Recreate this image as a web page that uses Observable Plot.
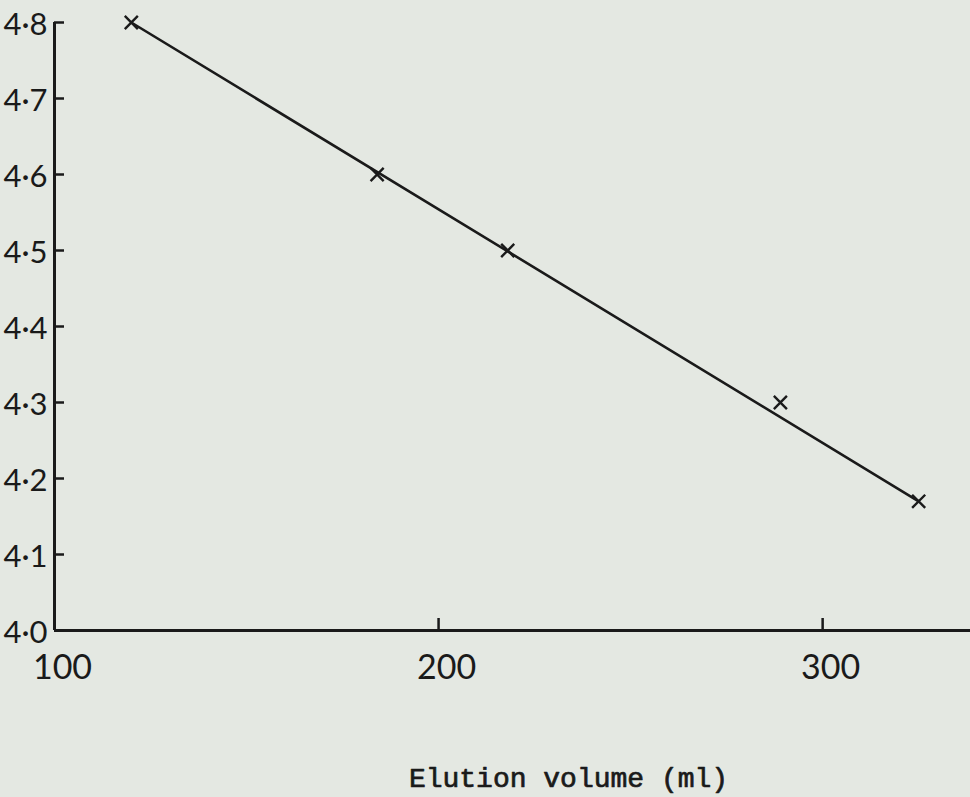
<!DOCTYPE html>
<html>
<head>
<meta charset="utf-8">
<script src="https://cdn.jsdelivr.net/npm/d3@7"></script>
<script src="https://cdn.jsdelivr.net/npm/@observablehq/plot@0.6"></script>
<style>
  html, body { margin: 0; padding: 0; background: #e4e8e2; }
  #chart { width: 970px; height: 797px; overflow: hidden; }
</style>
</head>
<body>
<div id="chart"></div>
<script>
// Data
const elutionVolume = [120, 184, 218, 289, 325];
const logMW = [4.80, 4.60, 4.50, 4.30, 4.17];
const fitVolume = [120, 325];
const fitLogMW = [4.80, 4.17];
const yTicks = [4.0, 4.1, 4.2, 4.3, 4.4, 4.5, 4.6, 4.7, 4.8];
const xTickLabels = [100, 200, 300];
const xTickMarks = [200, 300];
const xTitle = "Elution volume (ml)";

const points = elutionVolume.map((v, i) => ({v, m: logMW[i]}));
const fit = fitVolume.map((v, i) => ({v, m: fitLogMW[i]}));
const fmt = d => d.toFixed(1).replace(".", "\u00B7");
const ink = "#1a1a1a";

const chart = Plot.plot({
  width: 970,
  height: 797,
  marginLeft: 54,
  marginRight: 0,
  marginTop: 22,
  marginBottom: 167,
  style: {background: "transparent", color: ink, overflow: "visible"},
  x: {domain: [100, 338.5]},
  y: {domain: [4.0, 4.8]},
  marks: [
    // axis lines
    Plot.ruleX([100], {y1: 4.0, y2: 4.8, stroke: ink, strokeWidth: 3}),
    Plot.ruleY([4.0], {stroke: ink, strokeWidth: 3}),
    // y axis: inward ticks + labels
    Plot.axisY(yTicks, {tickSize: -10, tickFormat: () => "", stroke: ink, strokeWidth: 2.5, label: null}),
    Plot.axisY(yTicks, {tickSize: 0, tickPadding: 7, tickFormat: fmt, fontSize: 31,
      fontFamily: "Lato", fill: ink, dy: 3, label: null}),
    // x axis: inward ticks + labels
    Plot.axisX(xTickMarks, {tickSize: -12, tickFormat: () => "", stroke: ink, strokeWidth: 2.5, label: null}),
    Plot.axisX(xTickLabels, {tickSize: 0, tickPadding: 24, tickFormat: d => String(d), fontSize: 34,
      fontFamily: "Lato", fill: ink, dx: 8, label: null}),
    // fitted line
    Plot.line(fit, {x: "v", y: "m", stroke: ink, strokeWidth: 2.6}),
    // data points
    Plot.dot(points, {x: "v", y: "m", symbol: "times", r: 6, stroke: ink, strokeWidth: 2.4}),
    // axis title
    Plot.text([xTitle], {frameAnchor: "bottom", text: d => d, dy: 156, dx: 56,
      fontFamily: "Liberation Mono", fontSize: 28, fill: ink, stroke: ink, strokeWidth: 0.7,
      lineAnchor: "bottom"})
  ]
});
document.getElementById("chart").appendChild(chart);
</script>
</body>
</html>
